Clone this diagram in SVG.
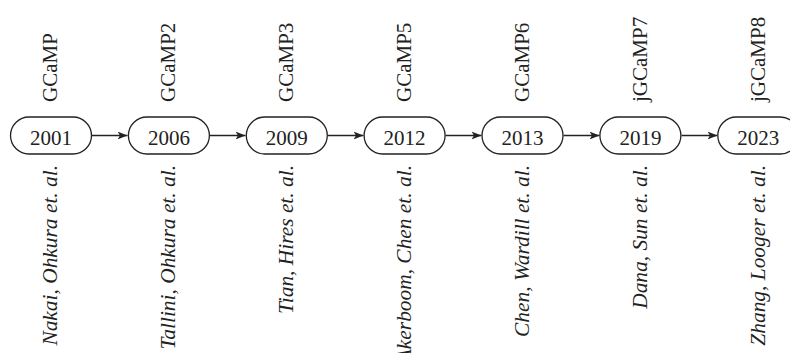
<svg xmlns="http://www.w3.org/2000/svg" width="790" height="353" viewBox="0 0 790 353">
<defs>
<style>
.n{fill:#fff;stroke:#222;stroke-width:1.3}
.y{font-family:"Liberation Serif",serif;font-size:21px;fill:#222;text-anchor:middle}
.t{font-family:"Liberation Serif",serif;font-size:21px;fill:#222;text-anchor:start}
.a{font-family:"Liberation Serif",serif;font-size:21.4px;font-style:italic;fill:#222;text-anchor:end}
.e{stroke:#222;stroke-width:1.3;fill:none;marker-end:url(#ah)}
</style>
<marker id="ah" viewBox="0 0 10 10" refX="10" refY="5" markerWidth="10" markerHeight="10" markerUnits="userSpaceOnUse" orient="auto">
<path d="M0,1 L10,5 L0,9 L2.5,5 Z" fill="#222"/>
</marker>
</defs>
<rect width="790" height="353" fill="#fff"/>
<g id="connectors">
<line class="e" x1="92" y1="135.5" x2="127.5" y2="135.5"/>
<line class="e" x1="210" y1="135.5" x2="245.5" y2="135.5"/>
<line class="e" x1="328" y1="135.5" x2="363.5" y2="135.5"/>
<line class="e" x1="445.5" y1="135.5" x2="481.5" y2="135.5"/>
<line class="e" x1="563.5" y1="135.5" x2="599.5" y2="135.5"/>
<line class="e" x1="681.5" y1="135.5" x2="717.5" y2="135.5"/>
</g>
<g id="n2001">
<rect class="n" x="10.5" y="117" width="81" height="37" rx="18.5"/>
<text class="y" x="51" y="145">2001</text>
<text class="t" transform="translate(57,102) rotate(-90)">GCaMP</text>
<text class="a" transform="translate(57,165) rotate(-90)">Nakai, Ohkura et. al.</text>
</g>
<g id="n2006">
<rect class="n" x="128.4" y="117" width="81" height="37" rx="18.5"/>
<text class="y" x="168.9" y="145">2006</text>
<text class="t" transform="translate(175,102) rotate(-90)">GCaMP2</text>
<text class="a" transform="translate(175,165) rotate(-90)">Tallini, Ohkura et. al.</text>
</g>
<g id="n2009">
<rect class="n" x="246.3" y="117" width="81" height="37" rx="18.5"/>
<text class="y" x="286.8" y="145">2009</text>
<text class="t" transform="translate(293,102) rotate(-90)">GCaMP3</text>
<text class="a" transform="translate(293,165) rotate(-90)">Tian, Hires et. al.</text>
</g>
<g id="n2012">
<rect class="n" x="364.1" y="117" width="81" height="37" rx="18.5"/>
<text class="y" x="404.6" y="145">2012</text>
<text class="t" transform="translate(411,102) rotate(-90)">GCaMP5</text>
<text class="a" transform="translate(411,165) rotate(-90)">Akerboom, Chen et. al.</text>
</g>
<g id="n2013">
<rect class="n" x="482" y="117" width="81" height="37" rx="18.5"/>
<text class="y" x="522.5" y="145">2013</text>
<text class="t" transform="translate(529,102) rotate(-90)">GCaMP6</text>
<text class="a" transform="translate(529,165) rotate(-90)">Chen, Wardill et. al.</text>
</g>
<g id="n2019">
<rect class="n" x="599.9" y="117" width="81" height="37" rx="18.5"/>
<text class="y" x="640.4" y="145">2019</text>
<text class="t" transform="translate(647,102) rotate(-90)">jGCaMP7</text>
<text class="a" transform="translate(647,165) rotate(-90)">Dana, Sun et. al.</text>
</g>
<g id="n2023">
<rect class="n" x="717.8" y="117" width="81" height="37" rx="18.5"/>
<text class="y" x="758.3" y="145">2023</text>
<text class="t" transform="translate(765,102) rotate(-90)">jGCaMP8</text>
<text class="a" transform="translate(765,165) rotate(-90)">Zhang, Looger et. al.</text>
</g>
</svg>
